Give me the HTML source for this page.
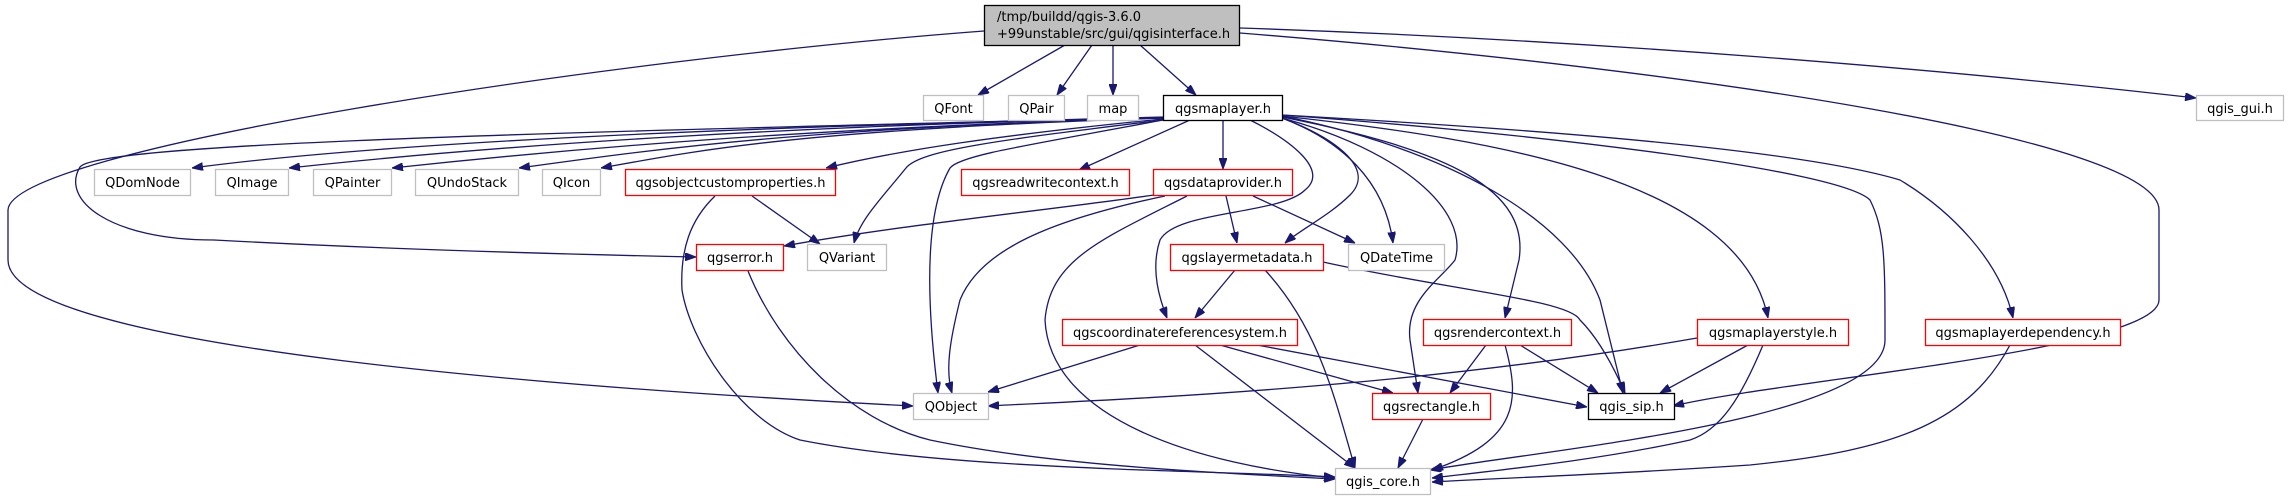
<!DOCTYPE html>
<html><head><meta charset="utf-8"><style>
html,body{margin:0;padding:0;background:#fff;}
svg{display:block;}
text{font-family:"DejaVu Sans","Liberation Sans",sans-serif;font-size:13px;fill:#000;}
.e{fill:none;stroke:#191970;stroke-width:1.3;}
</style></head><body>
<svg width="2289" height="500" viewBox="0 0 2289 500" xmlns="http://www.w3.org/2000/svg">
<defs>
<marker id="a" viewBox="0 0 11 8" refX="11" refY="4" markerWidth="11" markerHeight="8" markerUnits="userSpaceOnUse" orient="auto">
<path d="M0,0 L11,4 L0,8 z" fill="#191970" stroke="#191970"/>
</marker>
</defs>
<g class="e" marker-end="url(#a)">
<path d="M1065,45 L978,95"/>
<path d="M1092,45 L1057,95"/>
<path d="M1113,45 L1113,95"/>
<path d="M1140,45 L1196,95"/>
<path d="M1240,28 C1600,40 1950,70 2196,98"/>
<path d="M1240,33 C1700,70 2159,140 2159,210 L2159,300 C2159,350 1780,380 1673,406"/>
<path d="M984,31 C600,60 10,150 8,210 L8,260 C8,350 600,390 913,406"/>
<path d="M1163,118 C800,125 400,140 192,168"/>
<path d="M1163,118 C800,125 500,145 289,168"/>
<path d="M1163,118 C800,128 560,150 392,168"/>
<path d="M1163,118 C800,128 650,150 519,168"/>
<path d="M1163,118 C800,130 700,150 601,168"/>
<path d="M1163,119 C1000,135 900,150 826,168"/>
<path d="M1163,117 C700,130 100,140 80,167 C60,200 110,240 214,240 C400,250 600,255 696,257"/>
<path d="M1163,120 C1000,140 920,150 906,168 C880,200 860,220 854,243"/>
<path d="M1163,120 C1030,145 960,155 950,168 C920,220 930,330 938,393"/>
<path d="M1190,120 L1079,170"/>
<path d="M1223,120 L1223,169"/>
<path d="M1250,120 C1290,140 1330,170 1305,190 C1280,215 1176,210 1160,240 C1150,270 1160,300 1167,318"/>
<path d="M1282,118 C1340,140 1375,170 1350,195 C1330,215 1300,230 1285,243"/>
<path d="M1282,118 C1340,140 1385,180 1393,243"/>
<path d="M1282,118 C1400,150 1470,210 1455,260 C1440,280 1405,300 1410,340 L1418,393"/>
<path d="M1282,117 C1450,150 1530,190 1519,260 L1505,318"/>
<path d="M1282,116 C1450,150 1570,220 1600,300 L1623,393"/>
<path d="M1282,116 C1500,140 1740,180 1768,318"/>
<path d="M1282,115 C1550,130 1800,150 1900,180 C1950,210 2000,260 2013,318"/>
<path d="M1282,115 C1550,135 1840,170 1870,200 C1885,230 1885,260 1885,340 C1885,420 1540,450 1430,470"/>
<path d="M752,196 L820,244"/>
<path d="M715,196 C690,220 680,250 682,290 C690,340 740,420 800,440 C950,470 1200,470 1335,477"/>
<path d="M1154,195 C1050,210 900,225 784,246"/>
<path d="M1165,196 C1050,220 980,250 960,300 C950,340 945,370 952,393"/>
<path d="M1187,196 C1100,240 1050,260 1045,320 C1050,420 1200,465 1335,478"/>
<path d="M1226,196 L1237,243"/>
<path d="M1253,196 L1355,243"/>
<path d="M748,271 C780,350 850,420 930,440 C1050,465 1200,472 1335,479"/>
<path d="M1235,270 L1195,318"/>
<path d="M1265,270 C1320,330 1335,400 1355,468"/>
<path d="M1323,262 C1450,290 1570,300 1580,320 C1600,340 1615,370 1625,393"/>
<path d="M1140,345 L988,392"/>
<path d="M1220,345 L1393,393"/>
<path d="M1195,345 L1355,468"/>
<path d="M1257,345 L1587,407"/>
<path d="M1486,345 L1450,393"/>
<path d="M1520,345 L1598,393"/>
<path d="M1505,345 C1520,400 1520,440 1432,470"/>
<path d="M1697,338 C1400,390 1100,400 988,406"/>
<path d="M1748,345 L1660,393"/>
<path d="M1763,345 C1740,400 1720,430 1690,440 C1600,460 1500,470 1432,478"/>
<path d="M2010,345 C1970,420 1900,450 1750,465 C1600,475 1500,478 1432,482"/>
<path d="M1423,419 L1398,468"/>
</g>
<g stroke-width="1.3">
<rect x="984.5" y="5.5" width="255" height="40" fill="#bfbfbf" stroke="#000"/>
<rect x="923.5" y="95.5" width="60" height="25" fill="#fff" stroke="#bfbfbf"/>
<rect x="1008.5" y="95.5" width="56" height="25" fill="#fff" stroke="#bfbfbf"/>
<rect x="1087.5" y="95.5" width="51" height="25" fill="#fff" stroke="#bfbfbf"/>
<rect x="1163.5" y="95.5" width="119" height="25" fill="#fff" stroke="#000"/>
<rect x="2196.5" y="95.5" width="87" height="25" fill="#fff" stroke="#bfbfbf"/>
<rect x="94.5" y="169.5" width="96" height="26" fill="#fff" stroke="#bfbfbf"/>
<rect x="215.5" y="169.5" width="73" height="26" fill="#fff" stroke="#bfbfbf"/>
<rect x="313.5" y="169.5" width="78" height="26" fill="#fff" stroke="#bfbfbf"/>
<rect x="415.5" y="169.5" width="103" height="26" fill="#fff" stroke="#bfbfbf"/>
<rect x="542.5" y="169.5" width="58" height="26" fill="#fff" stroke="#bfbfbf"/>
<rect x="625.5" y="169.5" width="210" height="26" fill="#fff" stroke="#ff0000"/>
<rect x="961.5" y="169.5" width="168" height="26" fill="#fff" stroke="#ff0000"/>
<rect x="1153.5" y="169.5" width="139" height="26" fill="#fff" stroke="#ff0000"/>
<rect x="696.5" y="244.5" width="87" height="26" fill="#fff" stroke="#ff0000"/>
<rect x="807.5" y="244.5" width="79" height="26" fill="#fff" stroke="#bfbfbf"/>
<rect x="1170.5" y="244.5" width="153" height="26" fill="#fff" stroke="#ff0000"/>
<rect x="1348.5" y="244.5" width="96" height="26" fill="#fff" stroke="#bfbfbf"/>
<rect x="1062.5" y="319.5" width="235" height="26" fill="#fff" stroke="#ff0000"/>
<rect x="1423.5" y="319.5" width="148" height="26" fill="#fff" stroke="#ff0000"/>
<rect x="1697.5" y="319.5" width="151" height="26" fill="#fff" stroke="#ff0000"/>
<rect x="1925.5" y="319.5" width="195" height="26" fill="#fff" stroke="#ff0000"/>
<rect x="913.5" y="393.5" width="75" height="26" fill="#fff" stroke="#bfbfbf"/>
<rect x="1372.5" y="393.5" width="118" height="26" fill="#fff" stroke="#ff0000"/>
<rect x="1588.5" y="393.5" width="86" height="26" fill="#fff" stroke="#000"/>
<rect x="1335.5" y="468.5" width="95" height="26" fill="#fff" stroke="#bfbfbf"/>
</g>
<text x="997" y="21">/tmp/buildd/qgis-3.6.0</text>
<text x="997" y="38">+99unstable/src/gui/qgisinterface.h</text>
<g text-anchor="middle">
<text x="953.5" y="113">QFont</text>
<text x="1036.5" y="113">QPair</text>
<text x="1113" y="113">map</text>
<text x="1223" y="113">qgsmaplayer.h</text>
<text x="2240" y="113">qgis_gui.h</text>
<text x="142.5" y="187">QDomNode</text>
<text x="252" y="187">QImage</text>
<text x="352.5" y="187">QPainter</text>
<text x="467" y="187">QUndoStack</text>
<text x="571.5" y="187">QIcon</text>
<text x="730.5" y="187">qgsobjectcustomproperties.h</text>
<text x="1045.5" y="187">qgsreadwritecontext.h</text>
<text x="1223" y="187">qgsdataprovider.h</text>
<text x="740" y="262">qgserror.h</text>
<text x="847" y="262">QVariant</text>
<text x="1247" y="262">qgslayermetadata.h</text>
<text x="1396.5" y="262">QDateTime</text>
<text x="1180" y="337">qgscoordinatereferencesystem.h</text>
<text x="1497.5" y="337">qgsrendercontext.h</text>
<text x="1773" y="337">qgsmaplayerstyle.h</text>
<text x="2023" y="337">qgsmaplayerdependency.h</text>
<text x="951" y="411">QObject</text>
<text x="1431.5" y="411">qgsrectangle.h</text>
<text x="1631.5" y="411">qgis_sip.h</text>
<text x="1383" y="486">qgis_core.h</text>
</g>
</svg>
</body></html>
